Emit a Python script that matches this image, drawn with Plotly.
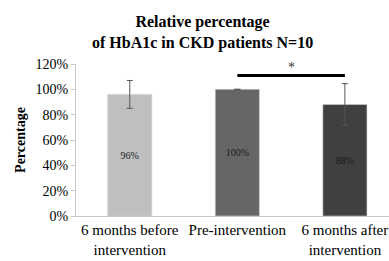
import plotly.graph_objects as go

categories = ["6 months before<br>intervention", "Pre-intervention", "6 months after<br>intervention"]
values = [0.96, 1.00, 0.88]
errors = [0.11, 0.0, 0.165]
labels = ["96%", "100%", "88%"]
bar_colors = ["#bfbfbf", "#666666", "#404040"]
y_ticks = [0, 0.2, 0.4, 0.6, 0.8, 1.0, 1.2]
y_tick_labels = ["0%", "20%", "40%", "60%", "80%", "100%", "120%"]
sig_pair = [1, 2]
sig_level = 1.11
sig_mark = "*"

FONT = "Liberation Serif"
W, H = 389, 261
L, T, PH = 76, 64, 152

fig = go.Figure()
fig.add_trace(go.Bar(
    x=categories, y=values,
    width=0.41,
    marker=dict(color=bar_colors, line=dict(color="#d0d0d0", width=0.6)),
    error_y=dict(type="data", array=errors, visible=True, color="#555555", thickness=1, width=3),
    text=labels, textposition="inside", insidetextanchor="middle",
    textfont=dict(family=FONT, size=10, color="#1a1a1a"),
    textangle=0,
    showlegend=False,
))

# significance bracket
fig.add_shape(type="line", xref="x", yref="y",
              x0=sig_pair[0], x1=sig_pair[1], y0=sig_level, y1=sig_level,
              line=dict(color="black", width=3))
fig.add_annotation(x=(sig_pair[0] + sig_pair[1]) / 2, y=1.176, xref="x", yref="y",
                   text=sig_mark, showarrow=False,
                   font=dict(family=FONT, size=14, color="#333333"),
                   yanchor="middle")

fig.add_annotation(text="<b>Relative percentage<br>of HbA1c in CKD patients N=10</b>",
                   xref="paper", yref="paper", x=(202 - L) / (W - L), y=1 + (T - 11) / PH,
                   xanchor="center", yanchor="top", showarrow=False,
                   font=dict(family=FONT, size=16, color="black"))

fig.update_layout(
    width=W, height=H,
    margin=dict(l=L, r=0, t=T, b=H - T - PH, pad=0),
    paper_bgcolor="white", plot_bgcolor="white",
    font=dict(family=FONT, color="black"),
    bargap=0.5,
)
fig.update_xaxes(
    range=[-0.5, 2.41],
    showline=True, linecolor="#c8c8c8", linewidth=1,
    ticks="", showgrid=False, automargin=False,
    tickfont=dict(family=FONT, size=15, color="black"),
)
fig.update_yaxes(
    range=[0, 1.2],
    tickvals=y_ticks, ticktext=y_tick_labels,
    showline=True, linecolor="#c8c8c8", linewidth=1,
    ticks="outside", ticklen=4, tickcolor="#c8c8c8",
    showgrid=False, zeroline=False, automargin=False,
    tickfont=dict(family=FONT, size=14, color="black"),
    title=dict(text="<b>Percentage</b>", font=dict(family=FONT, size=14, color="black"), standoff=6),
)

fig.write_html(
    "out.html",
    config={"displayModeBar": False},
    post_script="document.body.style.margin='0';document.documentElement.style.overflow='hidden';",
)
